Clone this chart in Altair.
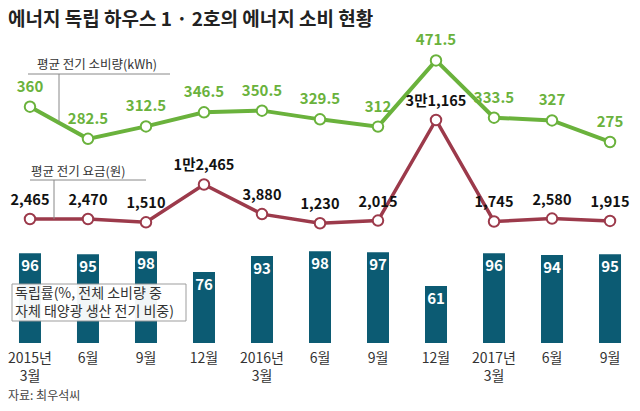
import altair as alt
import pandas as pd

# ---------------- data ----------------
title_text = ["에너지 독립 하우스 1 · 2호의 에너지 소비 현황"]
periods = ["2015-03", "2015-06", "2015-09", "2015-12", "2016-03", "2016-06",
           "2016-09", "2016-12", "2017-03", "2017-06", "2017-09"]
tick_line1 = ["2015년", "6월", "9월", "12월", "2016년", "6월",
              "9월", "12월", "2017년", "6월", "9월"]
tick_line2 = ["3월", "", "", "", "3월", "", "", "", "3월", "", ""]
kwh = [360, 282.5, 312.5, 346.5, 350.5, 329.5, 312, 471.5, 333.5, 327, 275]
fee = [2465, 2470, 1510, 12465, 3880, 1230, 2015, 31165, 1745, 2580, 1915]
rate = [96, 95, 98, 76, 93, 98, 97, 61, 96, 94, 95]
kwh_name = ["평균 전기 소비량(kWh)"]
fee_name = ["평균 전기 요금(원)"]
rate_name_1 = ["독립률(%, 전체 소비량 중"]
rate_name_2 = ["자체 태양광 생산 전기 비중)"]
source_text = ["자료: 최우석씨"]


def won(v):
    if v >= 10000:
        return f"{v // 10000}만{v % 10000:,}"
    return f"{v:,}"


df = pd.DataFrame({
    "period": periods,
    "tick1": tick_line1,
    "tick2": tick_line2,
    "kwh": kwh,
    "kwh_label": [f"{v:g}" for v in kwh],
    "fee": fee,
    "fee_label": [won(v) for v in fee],
    "rate": rate,
})

# ---------------- style ----------------
FONT = "Noto Sans CJK KR"
GREEN = "#6ab23c"
RED = "#9c3a4b"
BAR = "#0c5b73"
W, H = 624, 360

x = alt.X("period:O", scale=alt.Scale(type="point", domain=periods, padding=0.379), axis=None)

rate_scale = alt.Scale(domain=[-64.17, 320.86], nice=False, zero=False)
kwh_scale = alt.Scale(domain=[-354, 513.5], nice=False, zero=False)
fee_scale = alt.Scale(domain=[-50868, 53479], nice=False, zero=False)

base = alt.Chart(df)

bars = base.mark_bar(width=22, color=BAR).encode(
    x=x,
    y=alt.Y("rate:Q", scale=rate_scale, axis=None),
    y2=alt.datum(0),
)
bar_labels = base.mark_text(baseline="top", dy=6, color="white", fontWeight="bold",
                            fontSize=15, font=FONT).encode(
    x=x, y=alt.Y("rate:Q", scale=rate_scale, axis=None), text="rate:Q")

g_line = base.mark_line(color=GREEN, strokeWidth=4).encode(
    x=x, y=alt.Y("kwh:Q", scale=kwh_scale, axis=None))
g_pts = base.mark_point(shape="circle", filled=True, fill="white", stroke=GREEN,
                        strokeWidth=2, size=110, opacity=1).encode(
    x=x, y=alt.Y("kwh:Q", scale=kwh_scale, axis=None))
g_lab = base.mark_text(dy=-20, color=GREEN, fontWeight="bold", fontSize=15, font=FONT).encode(
    x=x, y=alt.Y("kwh:Q", scale=kwh_scale, axis=None), text="kwh_label:N")

r_line = base.mark_line(color=RED, strokeWidth=3.5).encode(
    x=x, y=alt.Y("fee:Q", scale=fee_scale, axis=None))
r_pts = base.mark_point(shape="circle", filled=True, fill="white", stroke=RED,
                        strokeWidth=2, size=110, opacity=1).encode(
    x=x, y=alt.Y("fee:Q", scale=fee_scale, axis=None))
r_lab = base.mark_text(dy=-18, color="#111", fontWeight="bold", fontSize=14.5, font=FONT).encode(
    x=x, y=alt.Y("fee:Q", scale=fee_scale, axis=None), text="fee_label:N")

ticks1 = base.mark_text(baseline="middle", fontSize=14, color="#333", font=FONT).encode(
    x=x, y=alt.value(316), text="tick1:N")
ticks2 = base.mark_text(baseline="middle", fontSize=14, color="#333", font=FONT).encode(
    x=x, y=alt.value(334), text="tick2:N")

# annotations
one = pd.DataFrame({"a": [1]})
title = alt.Chart(pd.DataFrame({"t": title_text})).mark_text(
    align="left", baseline="middle", fontSize=19, fontWeight="bold", color="#222", font=FONT).encode(
    x=alt.value(0), y=alt.value(-23), text="t:N")

g_name = alt.Chart(pd.DataFrame({"t": kwh_name})).mark_text(
    align="left", baseline="middle", fontSize=12.5, color="#333", font=FONT).encode(
    x=alt.value(29), y=alt.value(22), text="t:N")
g_ul = alt.Chart(one).mark_rule(color="#888", strokeWidth=1).encode(
    x=alt.value(20), x2=alt.value(162), y=alt.value(31))
g_vl = alt.Chart(one).mark_rule(color="#888", strokeWidth=1).encode(
    x=alt.value(51), y=alt.value(31), y2=alt.value(79))

r_name = alt.Chart(pd.DataFrame({"t": fee_name})).mark_text(
    align="left", baseline="middle", fontSize=12.5, color="#333", font=FONT).encode(
    x=alt.value(23), y=alt.value(128.5), text="t:N")
r_ul = alt.Chart(one).mark_rule(color="#888", strokeWidth=1).encode(
    x=alt.value(22), x2=alt.value(138), y=alt.value(137))
r_vl = alt.Chart(one).mark_rule(color="#888", strokeWidth=1).encode(
    x=alt.value(46), y=alt.value(137), y2=alt.value(176))

box = alt.Chart(one).mark_rect(fill="white", stroke="#999", strokeWidth=1, opacity=0.95).encode(
    x=alt.value(4), x2=alt.value(178), y=alt.value(241), y2=alt.value(278))
box_text1 = alt.Chart(pd.DataFrame({"t": rate_name_1})).mark_text(
    align="left", baseline="middle", fontSize=14, color="#333", font=FONT).encode(
    x=alt.value(7), y=alt.value(251), text="t:N")
box_text2 = alt.Chart(pd.DataFrame({"t": rate_name_2})).mark_text(
    align="left", baseline="middle", fontSize=14, color="#333", font=FONT).encode(
    x=alt.value(7), y=alt.value(268.5), text="t:N")

source = alt.Chart(pd.DataFrame({"t": source_text})).mark_text(
    align="left", baseline="middle", fontSize=12, color="#444", font=FONT).encode(
    x=alt.value(0), y=alt.value(353), text="t:N")

chart = alt.layer(
    bars, bar_labels, box, box_text1, box_text2,
    g_line, g_pts, g_lab,
    r_line, r_pts, r_lab,
    ticks1, ticks2,
    g_ul, g_vl, g_name, r_ul, r_vl, r_name,
    source, title,
).resolve_scale(y="independent").properties(
    width=W, height=H,
    autosize=alt.AutoSizeParams(type="none"),
    padding={"left": 0, "top": 35, "right": 0, "bottom": 0},
    background="white",
).configure_view(stroke=None)

chart.save("out.html", embed_options={"renderer": "svg", "actions": False})
